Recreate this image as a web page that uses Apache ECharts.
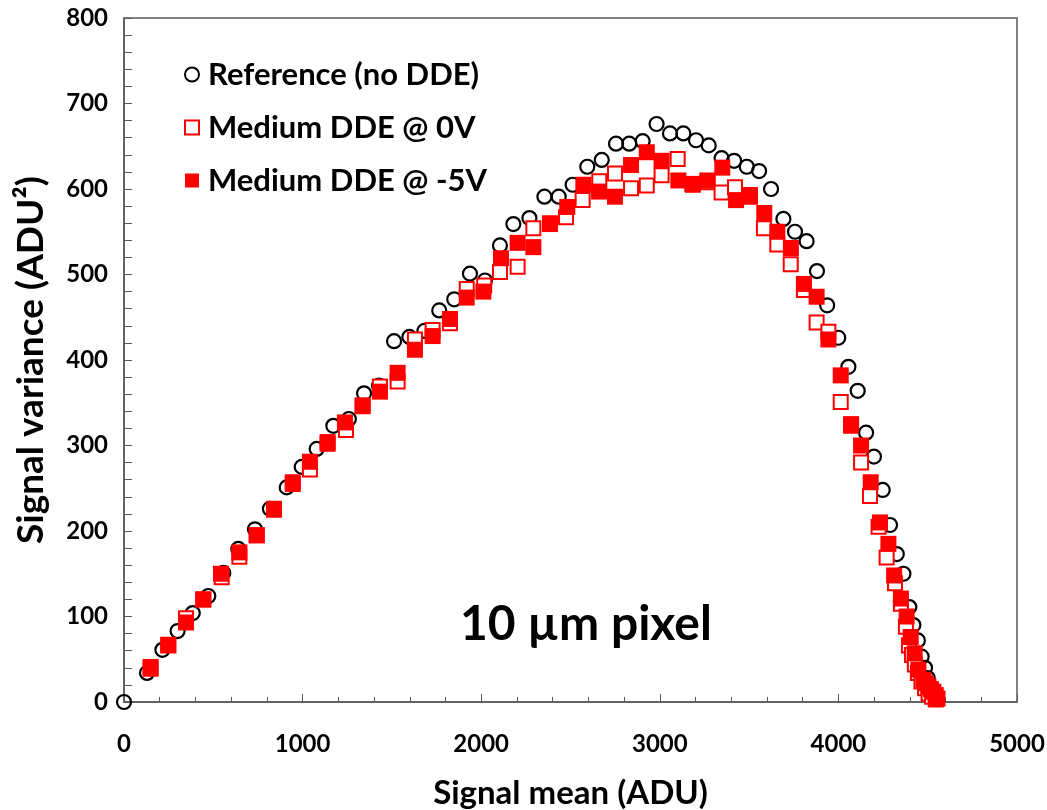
<!DOCTYPE html>
<html>
<head>
<meta charset="utf-8">
<title>Signal variance vs mean</title>
<script src="https://cdn.jsdelivr.net/npm/echarts@6/dist/echarts.min.js"></script>
<style>
	html, body { margin: 0; padding: 0; background: #fff; }
	#chart { width: 1047px; height: 810px; }
</style>
</head>
<body>
<div id="chart"></div>
<script>
// 读图得到的数据 (ADU)
let refMean = [0, 129, 215, 300, 385, 472, 556, 640, 733, 817, 911, 995, 1079, 1172, 1259, 1344, 1428, 1512, 1598, 1682, 1765, 1849, 1937, 2021, 2105, 2180, 2270, 2354, 2434, 2512, 2594, 2675, 2755, 2829, 2904, 2982, 3057, 3132, 3203, 3274, 3346, 3416, 3487, 3556, 3623, 3692, 3757, 3822, 3880, 3937, 3999, 4056, 4108, 4155, 4199, 4248, 4289, 4327, 4364, 4397, 4420, 4445, 4466, 4485, 4500, 4515, 4528, 4540]
let refVar = [0, 34, 61, 83, 104, 124, 151, 179, 202, 226, 251, 275, 296, 323, 331, 361, 370, 422, 427, 434, 458, 471, 501, 493, 534, 559, 566, 591, 591, 605, 626, 634, 653, 653, 656, 676, 665, 665, 657, 651, 636, 633, 626, 621, 600, 565, 550, 539, 504, 464, 426, 392, 364, 315, 287, 248, 207, 173, 150, 111, 90, 72, 53, 40, 28, 18, 10, 4]

let dde0Mean = [149, 248, 347, 444, 547, 646, 743, 840, 945, 1041, 1140, 1243, 1336, 1433, 1532, 1629, 1728, 1825, 1919, 2017, 2105, 2204, 2292, 2385, 2475, 2568, 2661, 2749, 2839, 2927, 3010, 3100, 3185, 3268, 3346, 3421, 3505, 3583, 3658, 3733, 3807, 3878, 3944, 4013, 4071, 4127, 4177, 4225, 4270, 4317, 4350, 4378, 4395, 4412, 4428, 4445, 4465, 4485, 4505, 4525, 4545]
let dde0Var = [39, 66, 98, 120, 146, 170, 195, 225, 255, 272, 302, 318, 346, 369, 375, 424, 435, 443, 483, 487, 503, 509, 554, 560, 567, 587, 609, 618, 601, 604, 616, 635, 605, 608, 596, 602, 591, 554, 535, 512, 482, 444, 433, 351, 323, 280, 241, 205, 169, 139, 115, 88, 66, 55, 44, 34, 24, 16, 10, 6, 3]

let dde5Mean = [149, 248, 347, 444, 543, 646, 743, 840, 945, 1041, 1140, 1237, 1336, 1433, 1532, 1629, 1728, 1825, 1919, 2012, 2111, 2204, 2292, 2385, 2482, 2572, 2660, 2749, 2839, 2927, 3010, 3104, 3182, 3266, 3350, 3427, 3505, 3585, 3658, 3734, 3807, 3878, 3944, 4013, 4071, 4127, 4181, 4233, 4280, 4312, 4350, 4382, 4405, 4427, 4448, 4476, 4490, 4504, 4518, 4532, 4545, 4555]
let dde5Var = [41, 67, 93, 120, 150, 175, 195, 226, 257, 281, 304, 327, 347, 363, 385, 412, 428, 448, 473, 480, 519, 537, 532, 559, 579, 605, 597, 591, 628, 643, 633, 610, 606, 610, 625, 587, 593, 572, 550, 531, 489, 474, 424, 382, 325, 300, 257, 210, 185, 148, 121, 100, 76, 57, 38, 26, 22, 18, 15, 12, 8, 4]

let seriesNames = ['Reference (no DDE)', 'Medium DDE @ 0V', 'Medium DDE @ -5V']

let font = 'Lato'
let axisColor = '#595959'

let zip = (xs, ys) => xs.map((x, i) => [x, ys[i]])

let chart = echarts.init(document.querySelector('#chart'))

let opt = {
	animation: false,
	backgroundColor: '#fff',
	grid: {
		left: 124,
		right: 30,
		top: 18,
		bottom: 108,
		outerBoundsMode: 'none',
		show: true,
		borderColor: axisColor,
		borderWidth: 1.5
	},
	legend: {
		orient: 'vertical',
		left: 179,
		top: 54,
		itemGap: 22,
		itemWidth: 14,
		itemHeight: 14,
		textStyle: {
			fontFamily: font,
			fontWeight: 'bold',
			fontSize: 31,
			color: '#000',
			padding: [0, 0, 0, 4]
		},
		data: seriesNames
	},
	graphic: [
		{
			type: 'text',
			left: 460,
			top: 601,
			style: {
				text: '10 µm pixel',
				font: 'bold 48px Lato',
				fill: '#000'
			}
		}
	],
	xAxis: {
		type: 'value',
		min: 0,
		max: 5000,
		interval: 1000,
		name: 'Signal mean (ADU)',
		nameLocation: 'middle',
		nameGap: 75,
		nameTextStyle: { fontFamily: font, fontWeight: 'bold', fontSize: 33, color: '#000' },
		axisLine: { show: true, lineStyle: { color: axisColor, width: 1.5 } },
		axisTick: { show: true, inside: true, length: 8, lineStyle: { color: axisColor } },
		minorTick: { show: true, splitNumber: 5, length: 5, lineStyle: { color: axisColor } },
		axisLabel: { margin: 30, fontFamily: font, fontSize: 24, fontWeight: 'bold', color: '#000', formatter: v => String(v) },
		splitLine: { show: false }
	},
	yAxis: {
		type: 'value',
		min: 0,
		max: 800,
		interval: 100,
		name: 'Signal variance (ADU²)',
		nameLocation: 'middle',
		nameRotate: 90,
		nameGap: 74,
		nameTextStyle: { fontFamily: font, fontWeight: 'bold', fontSize: 37, color: '#000' },
		axisLine: { show: true, lineStyle: { color: axisColor, width: 1.5 } },
		axisTick: { show: true, inside: true, length: 8, lineStyle: { color: axisColor } },
		minorTick: { show: true, splitNumber: 5, length: 8, lineStyle: { color: axisColor } },
		axisLabel: { margin: 16, fontFamily: font, fontSize: 24, fontWeight: 'bold', color: '#000', formatter: v => String(v) },
		splitLine: { show: false }
	},
	series: [
		{
			name: seriesNames[0],
			type: 'scatter',
			symbol: 'circle',
			symbolSize: 14,
			itemStyle: { color: 'rgba(255,255,255,0)', borderColor: '#000', borderWidth: 2.2, opacity: 1 },
			data: zip(refMean, refVar)
		},
		{
			name: seriesNames[1],
			type: 'scatter',
			symbol: 'rect',
			symbolSize: 14,
			itemStyle: { color: '#fff', borderColor: '#ff0000', borderWidth: 2, opacity: 1 },
			data: zip(dde0Mean, dde0Var)
		},
		{
			name: seriesNames[2],
			type: 'scatter',
			symbol: 'rect',
			symbolSize: 16,
			itemStyle: { color: '#ff0000', opacity: 1 },
			data: zip(dde5Mean, dde5Var)
		}
	]
}

chart.setOption(opt)
</script>
</body>
</html>
